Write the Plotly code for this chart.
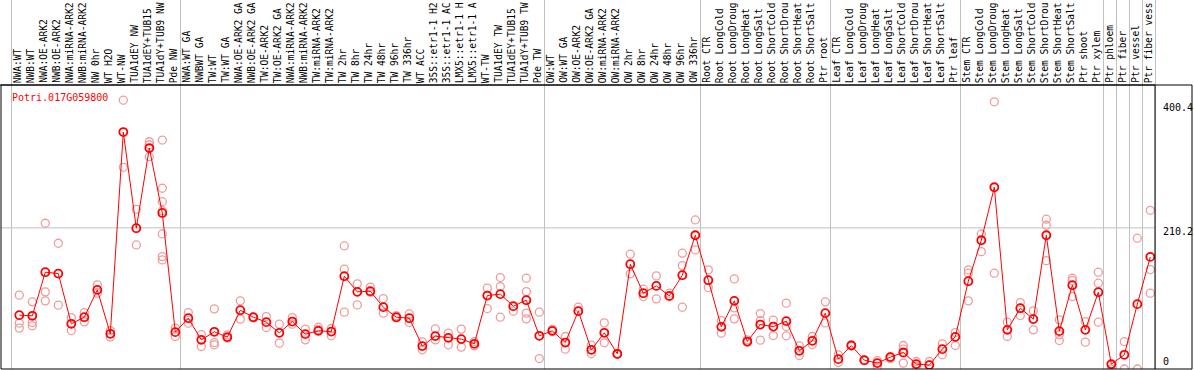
import plotly.graph_objects as go

gene = "Potri.017G059800"

labels = [
    "NWA:WT", "NWB:WT", "NWA:OE-ARK2", "NWB:OE-ARK2", "NWA:miRNA-ARK2", "NWB:miRNA-ARK2",
    "NW 0hr", "WT H2O", "WT-NW", "TUA1dEY NW", "TUA1dEY+TUB15", "TUA1dY+TUB9 NW", "Pde NW",
    "NWA:WT GA", "NWBWT GA", "TW:WT", "TW:WT GA", "NWA:OE-ARK2 GA", "NWB:OE-ARK2 GA",
    "TW:OE-ARK2", "TW:OE-ARK2 GA", "NWA:miRNA-ARK2", "NWB:miRNA-ARK2", "TW:miRNA-ARK2",
    "TW:miRNA-ARK2", "TW 2hr", "TW 8hr", "TW 24hr", "TW 48hr", "TW 96hr", "TW 336hr",
    "WT ACC", "35S::etr1-1 H2", "35S::etr1-1 AC", "LMX5::etr1-1 H", "LMX5::etr1-1 A",
    "WT-TW", "TUA1dEY TW", "TUA1dEY+TUB15", "TUA1dY+TUB9 TW", "Pde TW",
    "OW:WT", "OW:WT GA", "OW:OE-ARK2", "OW:OE-ARK2 GA", "OW:miRNA-ARK2", "OW:miRNA-ARK2",
    "OW 2hr", "OW 8hr", "OW 24hr", "OW 48hr", "OW 96hr", "OW 336hr",
    "Root CTR", "Root LongCold", "Root LongDroug", "Root LongHeat", "Root LongSalt",
    "Root ShortCold", "Root ShortDrou", "Root ShortHeat", "Root ShortSalt", "Ptr root",
    "Leaf CTR", "Leaf LongCold", "Leaf LongDroug", "Leaf LongHeat", "Leaf LongSalt",
    "Leaf ShortCold", "Leaf ShortDrou", "Leaf ShortHeat", "Leaf ShortSalt", "Ptr leaf",
    "Stem CTR", "Stem LongCold", "Stem LongDroug", "Stem LongHeat", "Stem LongSalt",
    "Stem ShortCold", "Stem ShortDrou", "Stem ShortHeat", "Stem ShortSalt", "Ptr shoot",
    "Ptr xylem", "Ptr phloem", "Ptr fiber", "Ptr vessel", "Ptr fiber vess",
]

means = [
    80.2, 79.2, 144.2, 142.1, 67.3, 77.2, 117.8, 52.4, 352.9, 209.7, 329.1, 232.4, 54.9,
    75.7, 43.4, 55.4, 47.5, 87.6, 77.2, 69.8, 53.9, 70.7, 51.9, 56.8, 55.8, 138.2, 114.9,
    115.9, 92.1, 77.2, 75.7, 34.1, 49.0, 46.4, 44.5, 37.5, 109.4, 111.5, 93.6, 102.5, 49.4,
    56.8, 39.4, 86.2, 28.6, 53.9, 22.6, 156.1, 112.9, 123.8, 108.9, 139.7, 199.2,
    132.3, 62.8, 101.5, 40.9, 66.2, 63.2, 71.3, 27.1, 42.0, 83.2,
    14.7, 35.0, 13.2, 8.8, 17.7, 24.6, 7.3, 5.8, 29.6, 47.9,
    130.8, 191.8, 270.7, 58.3, 90.6, 74.3, 199.2, 56.4, 124.8, 58.3,
    114.4, 7.3, 21.1, 96.6, 167.0,
]

replicates = [
    [110.0, 68.3, 60.9], [100.0, 69.2, 64.3], [217.1, 114.9, 101.5], [187.3, 95.1],
    [76.6, 57.3], [84.1, 70.2], [125.3, 112.9], [57.3, 47.5], [400.4, 300.4],
    [237.9, 184.8], [338.5, 316.2, 334.0], [341.0, 269.2, 249.2, 235.8, 201.2, 167.4, 162.5],
    [60.9, 48.4],
    [84.1, 68.3], [51.3, 33.5], [89.6, 39.4, 36.0], [50.9, 46.0], [101.5, 74.3], [77.2, 76.0],
    [78.1, 61.8], [66.8, 38.5], [76.6, 66.8], [59.4, 43.4], [62.3, 58.8], [60.3, 49.4],
    [183.3, 148.7, 84.7], [126.8, 95.5], [121.9, 114.0], [104.9, 83.2], [79.6, 76.0],
    [82.1, 69.2], [40.5, 28.6], [59.8, 43.4], [53.4, 36.0], [59.4, 32.6], [40.9, 34.5],
    [120.4, 90.0], [136.2, 122.8, 77.2], [86.2, 93.0], [135.3, 115.3, 83.2, 74.7],
    [84.7, 15.6],
    [59.4, 56.0], [48.4, 29.6], [92.1, 86.0], [35.6, 22.6], [68.7, 39.0], [22.6, 21.5],
    [171.0, 141.7], [118.9, 107.9], [138.7, 104.5], [112.9, 108.0], [172.5, 154.0, 92.1],
    [222.0, 177.4],
    [147.6, 121.3], [72.2, 53.4], [134.2, 91.1, 74.7], [43.4, 40.0], [82.6, 72.2, 43.0],
    [72.8, 49.8], [98.1, 63.2, 49.4], [34.5, 20.1], [48.4, 36.5], [100.0, 68.7],
    [21.1, 9.7], [35.0, 36.0], [13.2, 12.0], [12.6, 3.7], [15.2, 18.0], [35.0, 29.6, 8.8],
    [11.2, 3.7], [11.2, 6.0], [37.5, 21.1], [54.3, 35.0],
    [147.6, 142.7, 101.5], [201.2, 174.8], [398.0, 142.7], [69.8, 48.4], [99.0, 79.6],
    [86.6, 58.3], [223.1, 214.1, 161.4], [73.2, 50.9, 42.4], [135.3, 131.7, 107.9],
    [70.7, 40.0],
    [144.2, 127.8, 69.8], [6.2, 0.0], [40.9, 0.0], [194.8, 0.0], [236.4, 148.1, 112.9],
]

group_ends = [12, 40, 52, 62, 72, 83, 84, 85, 86, 87]
y_ticks = [0, 210.2, 400.4]

# ---- geometry (pixels) ----
W, H = 1194, 370
PL, PR, PT, PB = 1, 1155, 85, 369          # plot area box
x_range = [-1.408, 87.36]
y_range = [0, 423]
FONT = "DejaVu Sans Mono"


def xpaper(v):
    return (v - x_range[0]) / (x_range[1] - x_range[0])


def ypix_to_paper(py):
    return (PB - py) / (PB - PT)


def xpix_to_paper(px):
    return (px - PL) / (PR - PL)


x_idx = list(range(len(labels)))
rx, ry = [], []
for i, reps in enumerate(replicates):
    for v in reps:
        rx.append(i)
        ry.append(v)

fig = go.Figure()
fig.add_trace(go.Scatter(
    x=rx, y=ry, mode="markers",
    marker=dict(symbol="circle-open", size=8, color="#f09c9c", line=dict(width=1.3)),
    hoverinfo="skip", showlegend=False,
))
fig.add_trace(go.Scatter(
    x=x_idx, y=means, mode="lines+markers",
    line=dict(color="#ff0000", width=1),
    marker=dict(symbol="circle-open", size=8, color="#ff0000", line=dict(width=1.8)),
    showlegend=False,
))

shapes = []
top_paper = ypix_to_paper(0)
bounds = [-0.6] + [e + 0.4 for e in group_ends]
for b in bounds:
    xp = xpaper(b)
    shapes.append(dict(type="line", xref="paper", yref="paper", x0=xp, x1=xp,
                       y0=0, y1=top_paper, line=dict(color="#c0c0c0", width=1), layer="below"))
# horizontal gridline at middle tick
shapes.append(dict(type="line", xref="paper", yref="y", x0=0, x1=1, y0=y_ticks[1], y1=y_ticks[1],
                   line=dict(color="#c0c0c0", width=1), layer="below"))
# frames
right_outer = xpix_to_paper(1192)
left_outer = xpix_to_paper(0)
shapes.append(dict(type="rect", xref="paper", yref="paper", x0=0, x1=1, y0=0, y1=1,
                   line=dict(color="black", width=1)))
shapes.append(dict(type="line", xref="paper", yref="paper", x0=left_outer, x1=right_outer, y0=1, y1=1,
                   line=dict(color="black", width=1)))
shapes.append(dict(type="line", xref="paper", yref="paper", x0=1, x1=right_outer, y0=0, y1=0,
                   line=dict(color="black", width=1)))
shapes.append(dict(type="line", xref="paper", yref="paper", x0=right_outer, x1=right_outer, y0=0, y1=1,
                   line=dict(color="black", width=1)))

annotations = [
    dict(text=gene, xref="paper", yref="paper", x=xpix_to_paper(9.5), y=ypix_to_paper(97),
         xanchor="left", yanchor="middle", showarrow=False,
         font=dict(family=FONT, size=10, color="#ff0000")),
]
tick_label_pix = [361.7, 231.7, 107.3]
for t, py in zip(y_ticks, tick_label_pix):
    annotations.append(dict(text=f"{t:g}", xref="paper", yref="paper", x=xpix_to_paper(1161),
                            y=ypix_to_paper(py), xanchor="left", yanchor="middle", showarrow=False,
                            font=dict(family=FONT, size=10, color="black")))
for i, lab in enumerate(labels):
    annotations.append(dict(text=lab, xref="x", yref="paper", x=i, y=ypix_to_paper(84),
                            xanchor="center", yanchor="bottom", textangle=-90, xshift=-1.5,
                            showarrow=False, borderpad=0,
                            font=dict(family=FONT, size=9.6, color="black")))

fig.update_layout(
    width=W, height=H,
    margin=dict(l=PL, r=W - PR, t=PT, b=H - PB, pad=0),
    paper_bgcolor="white", plot_bgcolor="white",
    xaxis=dict(range=x_range, showgrid=False, zeroline=False, showticklabels=False,
               ticks="", showline=False, fixedrange=True),
    yaxis=dict(range=y_range, showgrid=False, zeroline=False, showticklabels=False,
               ticks="", showline=False, fixedrange=True),
    shapes=shapes, annotations=annotations,
)

fig.write_html("out.html", post_script="document.body.style.margin='0';",
               config={"displayModeBar": False})
